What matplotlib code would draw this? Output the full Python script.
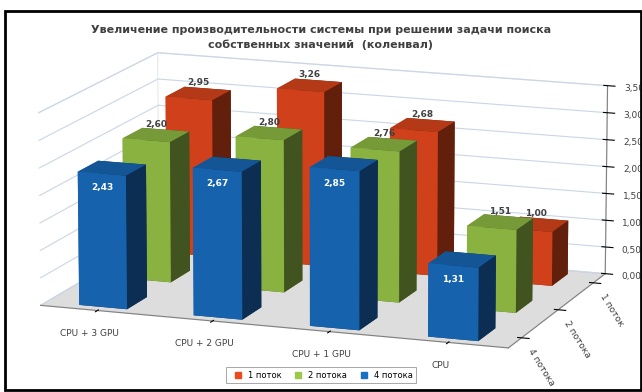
import numpy as np
import matplotlib.pyplot as plt
from matplotlib.ticker import FuncFormatter
from matplotlib.lines import Line2D
from matplotlib.patches import Rectangle

# data
categories = ["CPU + 3 GPU", "CPU + 2 GPU", "CPU + 1 GPU", "CPU"]
series = ["1 поток", "2 потока", "4 потока"]
vals_1 = [2.95, 3.26, 2.68, 1.00]
vals_2 = [2.60, 2.80, 2.76, 1.51]
vals_4 = [2.43, 2.67, 2.85, 1.31]
colors = ["#EB4A1E", "#9BC94A", "#1A6FC4"]

title = ("Увеличение производительности системы при решении задачи поиска\n"
         "собственных значений  (коленвал)")

plt.rcParams['font.family'] = ['DejaVu Sans']

fig = plt.figure(figsize=(6.42, 3.92), dpi=100)
ax = fig.add_axes([0.0, -0.01, 1.0, 1.0], projection='3d',
                  proj_type='persp', focal_length=2.5)
ax.computed_zorder = False

# depth: 1 поток at the back, 4 потока at the front
all_vals = [vals_1, vals_2, vals_4]
depth = [2, 1, 0]
bw, bd = 0.42, 0.45
xs, ys, hs, cs = [], [], [], []
for vals, d, c in zip(all_vals, depth, colors):
    for i, v in enumerate(vals):
        xs.append(i - bw / 2)
        ys.append(d - bd / 2)
        hs.append(v)
        cs.append(c)

bars = ax.bar3d(xs, ys, np.zeros(len(xs)), bw, bd, hs, color=cs, shade=True,
                zorder=1, edgecolor='none')
# the 3d axes patch is a square in the middle, so don't clip to it
bars.set_clip_on(False)

# value labels
for vals, d, c in zip(all_vals, depth, colors):
    for i, v in enumerate(vals):
        lbl = f"{v:.2f}".replace('.', ',')
        if c == colors[2]:
            ax.text(i, d - bd / 2, v - 0.3, lbl, color='white', clip_on=False,
                    fontsize=6.5, fontweight='bold', ha='center', zorder=5)
        else:
            ax.text(i, d, v + 0.15, lbl, color='#404040', clip_on=False,
                    fontsize=6.5, fontweight='bold', ha='center', zorder=5)

ax.set_xlim(-0.5, 3.5)
ax.set_ylim(-0.35, 2.35)
ax.set_zlim(0, 3.5)
ax.set_box_aspect((4.0, 2.6, 1.6), zoom=1.52)
ax.view_init(elev=13, azim=-70)

ax.set_xticks(range(len(categories)))
ax.set_xticklabels(categories, fontsize=6.5, color='#404040')
ax.set_yticks(depth)
ax.set_yticklabels(series, fontsize=6.5, color='#404040', rotation=-58)
ax.set_zticks(np.arange(0, 3.51, 0.5))
ax.zaxis.set_major_formatter(FuncFormatter(lambda v, p: f"{v:.2f}".replace('.', ',')))
ax.tick_params(axis='z', labelsize=6.5, labelcolor='#404040', pad=-1)
ax.tick_params(axis='x', pad=2)
ax.tick_params(axis='y', pad=-2)

ax.xaxis.pane.set_facecolor('white')
ax.yaxis.pane.set_facecolor('white')
ax.zaxis.pane.set_facecolor('#BDBDBD')
for a in (ax.xaxis, ax.yaxis, ax.zaxis):
    a.pane.set_edgecolor('#D0D0D0')
    a.line.set_color('#808080')
ax.xaxis._axinfo['grid'].update(color=(1, 1, 1, 0))
ax.yaxis._axinfo['grid'].update(color=(1, 1, 1, 0))
ax.zaxis._axinfo['grid'].update(color='#C9D6E6', linewidth=0.8)

fig.text(0.5, 0.905, title, ha='center', va='center', fontsize=8,
         fontweight='bold', color='#404040', linespacing=1.5)

handles = [Line2D([], [], marker='s', ls='', color=c, markersize=5) for c in colors]
leg = fig.legend(handles, series, loc='center', bbox_to_anchor=(0.5, 0.043),
                 ncol=3, fontsize=6, frameon=True, handletextpad=0.2,
                 columnspacing=1.0, borderpad=0.4, fancybox=False)
leg.get_frame().set_edgecolor('#808080')
leg.get_frame().set_linewidth(0.6)

fig.patches.append(Rectangle((0.008, 0.005), 0.99, 0.966, transform=fig.transFigure,
                             fill=False, edgecolor='black', linewidth=2))

fig.savefig("out.png", dpi=100)
